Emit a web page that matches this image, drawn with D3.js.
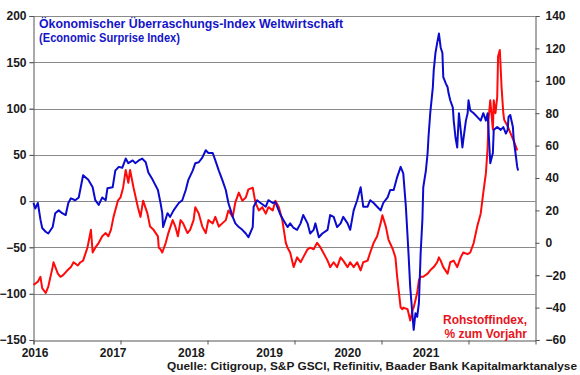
<!DOCTYPE html>
<html>
<head>
<meta charset="utf-8">
<script src="https://cdn.jsdelivr.net/npm/d3@7"></script>
<style>
body { margin: 0; background: #fff; }
svg text { font-family: "Liberation Sans", Arial, sans-serif; font-weight: bold; }
</style>
</head>
<body>
<svg id="view" width="580" height="375"></svg>
<script>
// Ökonomischer Überraschungsindex (linke Achse), Zeit in Dezimaljahren
const blueYears = [2016.00,2016.02,2016.05,2016.08,2016.10,2016.14,2016.17,2016.22,2016.25,2016.29,2016.33,2016.37,2016.40,2016.43,2016.48,2016.52,2016.57,2016.63,2016.68,2016.71,2016.75,2016.79,2016.83,2016.85,2016.91,2016.94,2016.98,
  2017.02,2017.06,2017.09,2017.14,2017.17,2017.21,2017.25,2017.29,2017.32,2017.37,2017.43,2017.46,2017.48,2017.49,2017.54,2017.57,2017.61,2017.67,2017.71,2017.75,2017.78,2017.83,2017.86,2017.90,2017.94,2017.98,
  2018.01,2018.06,2018.09,2018.13,2018.17,2018.21,2018.24,2018.29,2018.32,2018.36,2018.40,2018.44,2018.47,2018.52,2018.53,2018.57,2018.61,2018.67,2018.70,2018.75,2018.78,2018.84,2018.87,2018.92,2018.95,2018.99,
  2019.03,2019.07,2019.10,2019.15,2019.18,2019.22,2019.24,2019.28,2019.32,2019.38,2019.41,2019.45,2019.49,2019.53,2019.56,2019.61,2019.64,2019.68,2019.72,2019.76,2019.79,2019.84,2019.87,2019.91,2019.95,2019.99,
  2020.02,2020.07,2020.10,2020.14,2020.18,2020.22,2020.25,2020.28,2020.30,2020.31,2020.33,2020.36,2020.37,2020.39,2020.41,2020.43,2020.45,2020.47,2020.48,2020.51,2020.53,2020.54,2020.56,2020.59,2020.60,2020.62,2020.64,2020.66,2020.68,2020.70,2020.71,2020.74,2020.76,2020.77,2020.79,2020.82,2020.83,2020.85,2020.87,2020.89,2020.91,2020.93,2020.94,2020.97,2020.99,
  2021.00,2021.02,2021.06,2021.10,2021.14,2021.17,2021.20,2021.22,2021.23,2021.25,2021.28,2021.29,2021.33,2021.37,2021.40,2021.43,2021.45,2021.46,2021.48,2021.51,2021.52,2021.54,2021.56,2021.57];
const blueValues = [-2,-8,-2,-20,-29,-33,-35,-28,-13,-10,-13,-15,-2,3,1,4,28,23,15,1,-4,4,1,14,15,33,37,
  36,46,41,44,41,44,46,42,31,23,12,-2,-13,-28,-13,-17,-10,-2,1,12,23,33,41,42,47,55,
  52,52,44,33,23,12,-2,-17,-24,-28,-31,-35,-39,-28,-6,1,-2,-6,1,-2,-1,-15,-20,-28,-24,-29,
  -31,-24,-15,-24,-35,-31,-24,-39,-35,-31,-15,-17,-28,-24,-17,-24,-31,-10,1,15,-6,-6,1,-2,-6,-10,
  -2,4,12,12,26,37,30,-6,-39,-56,-93,-128,-139,-121,-125,-110,-56,-20,15,33,52,69,95,123,141,160,171,181,166,160,134,127,123,117,109,101,87,69,58,95,77,58,66,87,95,
  109,98,95,91,87,95,87,95,77,41,52,77,80,77,80,73,77,91,93,80,66,52,37,33];

// Rohstoffindex, % zum Vorjahr (rechte Achse)
const redYears = [2016.00,2016.05,2016.08,2016.10,2016.14,2016.17,2016.22,2016.23,2016.28,2016.31,2016.34,2016.39,2016.43,2016.46,2016.51,2016.54,2016.57,2016.62,2016.66,2016.68,2016.71,2016.75,2016.79,2016.83,2016.86,2016.89,2016.92,2016.97,
  2017.00,2017.03,2017.06,2017.09,2017.11,2017.15,2017.20,2017.23,2017.26,2017.31,2017.34,2017.38,2017.43,2017.44,2017.46,2017.48,2017.52,2017.55,2017.60,2017.63,2017.66,2017.69,2017.72,2017.77,2017.80,2017.84,2017.86,2017.90,2017.94,2017.98,
  2018.01,2018.06,2018.09,2018.13,2018.17,2018.21,2018.24,2018.29,2018.32,2018.36,2018.40,2018.44,2018.47,2018.52,2018.55,2018.59,2018.63,2018.67,2018.70,2018.75,2018.78,2018.82,2018.86,2018.90,2018.92,2018.95,2018.99,
  2019.03,2019.07,2019.10,2019.15,2019.18,2019.22,2019.26,2019.30,2019.33,2019.38,2019.41,2019.45,2019.49,2019.53,2019.56,2019.61,2019.64,2019.68,2019.72,2019.76,2019.79,2019.84,2019.87,2019.91,2019.95,2019.99,
  2020.01,2020.05,2020.08,2020.13,2020.16,2020.18,2020.22,2020.24,2020.25,2020.30,2020.33,2020.36,2020.37,2020.41,2020.43,2020.45,2020.48,2020.53,2020.56,2020.60,2020.64,2020.66,2020.68,2020.71,2020.76,2020.79,2020.83,2020.87,2020.91,2020.94,2020.99,
  2021.02,2021.06,2021.10,2021.14,2021.17,2021.20,2021.22,2021.23,2021.25,2021.28,2021.29,2021.31,2021.33,2021.34,2021.36,2021.38,2021.40,2021.41,2021.45,2021.48,2021.52,2021.56];
const redValues = [-26,-24,-21,-28,-31,-27,-15,-12,-19,-21,-20,-17,-15,-12,-14,-12,-11,-3,8,-6,-3,0,4,6,4,8,16,26,
  28,34,45,37,45,34,22,16,26,18,10,8,4,-3,-4,-6,0,6,14,10,4,14,12,6,8,14,22,18,10,6,
  14,12,16,10,12,14,20,16,25,31,26,28,33,34,25,20,22,18,22,20,26,22,14,0,-3,-6,-15,
  -9,-12,-9,-4,-3,-4,0,-3,-6,-11,-15,-12,-15,-9,-11,-15,-12,-15,-12,-17,-12,-11,-6,0,4,12,
  17,10,2,-4,-9,-21,-40,-41,-40,-41,-48,-41,-40,-31,-23,-21,-21,-19,-17,-15,-12,-9,-11,-15,-19,-12,-11,-15,-9,-6,-7,
  -6,0,10,18,31,43,59,76,88,70,88,80,90,115,119,96,80,76,72,68,63,57];

const leftTicks = [-150, -100, -50, 0, 50, 100, 150, 200];
const rightTicks = [-60, -40, -20, 0, 20, 40, 60, 80, 100, 120, 140];
const yearTicks = [2016, 2017, 2018, 2019, 2020, 2021];
const titleLines = ['Ökonomischer Überraschungs-Index Weltwirtschaft', '(Economic Surprise Index)'];
const redLabel = ['Rohstoffindex,', '% zum Vorjahr'];
const sourceText = 'Quelle: Citigroup, S&P GSCI, Refinitiv, Baader Bank Kapitalmarktanalyse';

const X0 = 33.5, X1 = 535.5, Y0 = 16, Y1 = 340;
const BLUE = '#0b0bd0', RED = '#ff0a0a', GRID = '#8a8a8a', INK = '#1a1a1a';

var view = d3.select('#view');

var x = d3.scaleLinear().domain([2016, 2021.77]).range([X0, X1]);
var yL = d3.scaleLinear().domain([-150, 200]).range([Y1, Y0]);
var yR = d3.scaleLinear().domain([-60, 140]).range([Y1, Y0]);
// year labels in the original sit a bit left of their ticks
var xLab = d3.scalePoint().domain(yearTicks).range([35, 426]);

// gridlines
view.append('g').selectAll('line').data(leftTicks.filter(v => v > -150)).enter().append('line')
    .attr('x1', X0 - 4).attr('x2', X1)
    .attr('y1', v => Math.round(yL(v)) + .5).attr('y2', v => Math.round(yL(v)) + .5)
    .attr('stroke', GRID).attr('stroke-width', 1);

// left axis
var gL = view.append('g').attr('transform', 'translate(' + X0 + ',0)')
    .call(d3.axisLeft(yL).tickValues(leftTicks).tickSize(4).tickPadding(3));
// right axis
var gR = view.append('g').attr('transform', 'translate(' + X1 + ',0)')
    .call(d3.axisRight(yR).tickValues(rightTicks).tickSize(4).tickPadding(6));
// bottom axis, ticks only
var gB = view.append('g').attr('transform', 'translate(0,' + (Y1 + .5) + ')')
    .call(d3.axisBottom(x).tickValues(yearTicks).tickSize(4).tickFormat(''));

[gL, gR, gB].forEach(function(g) {
    g.select('.domain').attr('stroke', '#555').attr('stroke-width', 1);
    g.selectAll('.tick line').attr('stroke', '#555');
    g.selectAll('text').attr('fill', INK).style('font-size', '12px')
        .style('font-family', '"Liberation Sans", Arial, sans-serif').style('font-weight', 'bold');
});

view.append('g').selectAll('text').data(yearTicks).enter().append('text')
    .attr('x', d => xLab(d)).attr('y', 357)
    .attr('text-anchor', 'middle').attr('fill', INK).style('font-size', '12px')
    .text(d => d);

// series
var blueData = blueYears.map((t, i) => ({t: t, v: blueValues[i]}));
var redData = redYears.map((t, i) => ({t: t, v: redValues[i]}));

view.append('path').datum(redData)
    .attr('d', d3.line().x(d => x(d.t)).y(d => yR(d.v)))
    .attr('fill', 'none').attr('stroke', RED).attr('stroke-width', 2).attr('stroke-linejoin', 'round');
view.append('path').datum(blueData)
    .attr('d', d3.line().x(d => x(d.t)).y(d => yL(d.v)))
    .attr('fill', 'none').attr('stroke', BLUE).attr('stroke-width', 2).attr('stroke-linejoin', 'round');

// texts
view.append('g').selectAll('text').data(titleLines).enter().append('text')
    .attr('x', 39).attr('y', (d, i) => 28 + i * 14)
    .attr('fill', '#1515c8').style('font-size', '12px')
    .attr('textLength', (d, i) => i ? 141 : 304).attr('lengthAdjust', 'spacingAndGlyphs')
    .text(d => d);

view.append('g').selectAll('text').data(redLabel).enter().append('text')
    .attr('x', 527).attr('y', (d, i) => 324 + i * 14)
    .attr('text-anchor', 'end').attr('fill', '#e8141c').style('font-size', '12px')
    .text(d => d);

view.append('text')
    .attr('x', 167).attr('y', 370)
    .attr('fill', INK).style('font-size', '11px')
    .attr('textLength', 410).attr('lengthAdjust', 'spacingAndGlyphs')
    .text(sourceText);
</script>
</body>
</html>
